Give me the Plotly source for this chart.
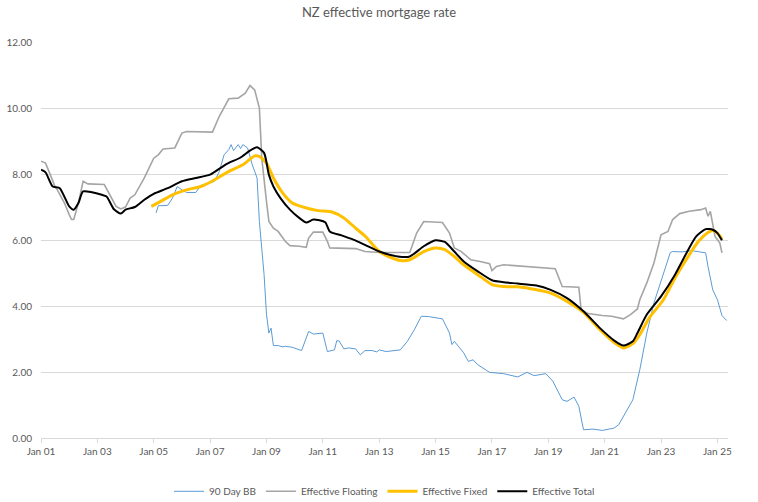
import plotly.graph_objects as go

# ---- Data ----
bb_dates = ["2005-02-01","2005-03-01","2005-05-01","2005-07-01","2005-09-01","2005-11-01",
            "2006-01-01","2006-03-01","2006-07-01","2006-09-01","2006-12-01","2007-03-01",
            "2007-05-01","2007-07-01","2007-09-01","2007-10-01","2007-11-01","2008-01-01",
            "2008-02-01","2008-03-01","2008-05-01","2008-07-01","2008-09-01","2008-10-01",
            "2008-12-01","2009-01-01","2009-02-01","2009-03-01","2009-04-01","2009-06-01",
            "2009-08-01","2009-09-01","2009-12-01","2010-04-01","2010-07-01","2010-09-01",
            "2011-01-01","2011-03-01","2011-06-01","2011-07-01","2011-08-01","2011-10-01",
            "2011-12-01","2012-03-01","2012-05-01","2012-07-01","2012-10-01","2012-12-01",
            "2013-01-01","2013-04-01","2013-10-01","2014-01-01","2014-04-01","2014-07-01",
            "2014-10-01","2015-04-01","2015-07-01","2015-08-01","2015-09-01","2016-01-01",
            "2016-03-01","2016-05-01","2016-07-01","2016-12-01","2017-06-01","2017-12-01",
            "2018-04-01","2018-07-01","2018-12-01","2019-03-01","2019-07-01","2019-09-01",
            "2019-12-01","2020-02-01","2020-04-01","2020-08-01","2020-12-01","2021-05-01",
            "2021-07-01","2021-10-01","2022-01-01","2022-04-01","2022-07-01","2022-10-01",
            "2023-02-01","2023-05-01","2023-06-01","2023-10-01","2024-02-01","2024-06-01",
            "2024-08-01","2024-09-01","2024-11-01","2025-01-01","2025-03-01","2025-05-01"]
bb_values = [6.82,7.04,7.04,7.05,7.27,7.62,
             7.52,7.44,7.44,7.65,7.71,7.78,
             8.08,8.58,8.74,8.89,8.71,8.89,
             8.77,8.89,8.79,8.28,7.88,6.56,
             4.95,3.75,3.18,3.33,2.80,2.80,
             2.76,2.78,2.75,2.65,3.23,3.15,
             3.18,2.62,2.67,2.95,2.94,2.70,
             2.73,2.70,2.52,2.65,2.65,2.61,
             2.67,2.62,2.67,2.93,3.28,3.69,
             3.68,3.61,3.18,2.83,2.93,2.58,
             2.32,2.37,2.22,1.99,1.95,1.85,
             1.99,1.89,1.95,1.72,1.16,1.11,
             1.24,0.96,0.25,0.27,0.23,0.30,
             0.40,0.76,1.16,2.07,3.18,4.09,
             5.00,5.62,5.65,5.64,5.68,5.63,
             5.61,5.20,4.49,4.19,3.71,3.56]

float_dates = ["2001-01-01","2001-03-01","2001-05-01","2001-07-01","2001-08-01","2001-11-01",
               "2002-01-01","2002-02-01","2002-03-01","2002-05-01","2002-07-01","2002-09-01",
               "2003-04-01","2003-06-01","2003-09-01","2003-11-01","2004-01-01","2004-03-01",
               "2004-05-01","2004-09-01","2005-01-01","2005-03-01","2005-05-01","2005-10-01",
               "2006-01-01","2006-03-01","2007-01-01","2007-02-01","2007-05-01","2007-09-01",
               "2008-01-01","2008-04-01","2008-06-01","2008-08-01","2008-10-01","2008-11-01",
               "2009-01-01","2009-02-01","2009-04-01","2009-06-01","2009-09-01","2009-11-01",
               "2010-03-01","2010-06-01","2010-07-01","2010-09-01","2011-01-01","2011-03-01",
               "2011-04-01","2011-09-01","2012-03-01","2012-07-01","2013-01-01","2014-02-01",
               "2014-05-01","2014-08-01","2015-04-01","2015-07-01","2015-09-01","2015-12-01",
               "2016-04-01","2016-08-01","2016-12-01","2017-01-01","2017-03-01","2017-06-01",
               "2017-12-01","2018-06-01","2019-04-01","2019-07-01","2020-02-01","2020-03-01",
               "2020-06-01","2020-12-01","2021-04-01","2021-09-01","2021-12-01","2022-03-01",
               "2022-04-01","2022-07-01","2022-10-01","2023-01-01","2023-04-01","2023-06-01",
               "2023-09-01","2024-01-01","2024-06-01","2024-08-01","2024-09-01","2024-10-01",
               "2024-12-01","2025-02-01","2025-03-01"]
float_values = [8.39,8.33,7.98,7.62,7.52,7.12,
                6.77,6.62,6.62,7.12,7.78,7.70,
                7.68,7.42,7.02,6.94,7.00,7.27,
                7.37,7.88,8.48,8.58,8.76,8.79,
                9.24,9.29,9.29,9.27,9.75,10.28,
                10.30,10.45,10.68,10.55,10.00,8.48,
                7.17,6.56,6.36,6.26,5.96,5.83,
                5.81,5.78,6.06,6.24,6.24,5.96,
                5.76,5.76,5.74,5.65,5.62,5.62,
                6.21,6.56,6.53,6.21,5.76,5.65,
                5.40,5.35,5.28,5.07,5.20,5.25,
                5.22,5.17,5.13,4.59,4.57,3.89,
                3.77,3.71,3.69,3.61,3.74,3.91,
                4.19,4.70,5.30,6.16,6.26,6.62,
                6.80,6.87,6.92,6.97,6.72,6.87,
                6.11,5.91,5.61]

fixed_dates = ["2004-12-01","2005-04-01","2005-09-01","2006-03-01","2006-09-01","2007-01-01",
               "2007-09-01","2008-03-01","2008-08-01","2008-10-01","2009-01-01","2009-04-01",
               "2009-08-01","2009-12-01","2010-06-01","2010-11-01","2011-05-01","2011-10-01",
               "2012-03-01","2012-07-01","2013-01-01","2013-05-01","2013-10-01","2014-02-01",
               "2014-08-01","2015-01-01","2015-05-01","2015-09-01","2016-01-01","2016-07-01",
               "2017-01-01","2017-06-01","2017-12-01","2018-08-01","2019-02-01","2019-09-01",
               "2020-04-01","2020-11-01","2021-05-01","2021-09-01","2022-01-01","2022-04-01",
               "2022-08-01","2023-02-01","2023-07-01","2024-01-01","2024-05-01","2024-09-01",
               "2024-11-01","2025-01-01","2025-03-01"]
fixed_values = [7.02,7.17,7.37,7.52,7.62,7.75,
                8.08,8.28,8.55,8.53,8.33,7.88,
                7.42,7.12,6.97,6.89,6.85,6.67,
                6.36,6.12,5.65,5.50,5.38,5.40,
                5.65,5.76,5.71,5.50,5.25,4.95,
                4.65,4.59,4.58,4.49,4.39,4.14,
                3.81,3.28,2.90,2.73,2.86,3.13,
                3.64,4.19,4.85,5.55,5.96,6.23,
                6.29,6.21,6.03]

total_dates = ["2001-01-01","2001-03-01","2001-06-01","2001-09-01","2002-01-01","2002-03-01",
               "2002-05-01","2002-07-01","2003-03-01","2003-05-01","2003-08-01","2003-11-01",
               "2004-01-01","2004-05-01","2004-09-01","2005-01-01","2005-07-01","2006-01-01",
               "2006-07-01","2007-01-01","2007-08-01","2008-02-01","2008-06-01","2008-09-01",
               "2008-12-01","2009-02-01","2009-04-01","2009-07-01","2009-11-01","2010-03-01",
               "2010-06-01","2010-09-01","2011-02-01","2011-04-01","2011-09-01","2012-02-01",
               "2012-07-01","2013-01-01","2013-09-01","2014-02-01","2014-08-01","2015-01-01",
               "2015-05-01","2015-09-01","2016-01-01","2016-07-01","2017-01-01","2017-06-01",
               "2017-12-01","2018-08-01","2019-02-01","2019-09-01","2020-04-01","2020-11-01",
               "2021-05-01","2021-09-01","2022-01-01","2022-03-01","2022-07-01","2023-01-01",
               "2023-07-01","2024-01-01","2024-04-01","2024-08-01","2024-11-01","2025-01-01",
               "2025-03-01"]
total_values = [8.13,8.05,7.62,7.57,7.02,6.92,
                7.12,7.47,7.37,7.32,6.94,6.80,
                6.92,7.00,7.22,7.40,7.57,7.78,
                7.88,7.98,8.30,8.50,8.71,8.81,
                8.64,7.98,7.62,7.27,6.92,6.67,
                6.53,6.62,6.54,6.26,6.14,6.01,
                5.85,5.65,5.50,5.50,5.81,5.99,
                5.94,5.65,5.35,5.05,4.78,4.72,
                4.68,4.62,4.49,4.24,3.84,3.33,
                2.96,2.80,2.93,3.18,3.74,4.29,
                4.95,5.76,6.11,6.33,6.31,6.21,
                5.99]

series_names = ["90 Day BB", "Effective Floating", "Effective Fixed", "Effective Total"]
y_tick_values = [0, 2, 4, 6, 8, 10, 12]

FONT = "Lato, 'Liberation Sans', sans-serif"
TXT = "#595959"
GRID = "#d9d9d9"

fig = go.Figure()
fig.add_trace(go.Scatter(x=bb_dates, y=bb_values, name=series_names[0], mode="lines",
                         line=dict(color="#5b9bd5", width=1)))
fig.add_trace(go.Scatter(x=float_dates, y=float_values, name=series_names[1], mode="lines",
                         line=dict(color="#a5a5a5", width=1.6)))
fig.add_trace(go.Scatter(x=fixed_dates, y=fixed_values, name=series_names[2], mode="lines",
                         line=dict(color="#ffc000", width=3, shape="spline", smoothing=0.6)))
fig.add_trace(go.Scatter(x=total_dates, y=total_values, name=series_names[3], mode="lines",
                         line=dict(color="#000000", width=2, shape="spline", smoothing=0.6)))

fig.update_layout(
    width=758, height=502,
    margin=dict(l=41, r=30, t=42, b=64, autoexpand=False),
    paper_bgcolor="white", plot_bgcolor="white",
    font=dict(family=FONT, size=10, color=TXT),
    title=dict(text="NZ effective mortgage rate", x=0.5, xanchor="center",
               y=1 - 12 / 502, yanchor="middle", yref="container",
               font=dict(family=FONT, size=13, color=TXT)),
    showlegend=True,
    legend=dict(orientation="h", x=0.5, xanchor="center", y=-0.098, yanchor="top",
                font=dict(family=FONT, size=10, color=TXT), itemwidth=30,
                tracegroupgap=0, bgcolor="rgba(0,0,0,0)"),
)
fig.update_xaxes(type="date", range=["2001-01-01", "2025-05-18"],
                 tick0="2001-01-01", dtick="M24", tickformat="%b %y",
                 showgrid=False, showline=True, linecolor=GRID, linewidth=1,
                 ticks="outside", ticklen=4, tickcolor=GRID, automargin=False,
                 tickfont=dict(family=FONT, size=10, color=TXT))
fig.update_yaxes(range=[0, 12], tickvals=y_tick_values, tickformat=".2f",
                 showgrid=True, gridcolor=GRID, gridwidth=1, zeroline=False,
                 showline=False, ticks="", ticklabelstandoff=8, automargin=False,
                 tickfont=dict(family=FONT, size=10, color=TXT))

fig.write_html("out.html", config={"displayModeBar": False},
               post_script="document.body.style.margin='0';document.body.style.overflow='hidden';")
